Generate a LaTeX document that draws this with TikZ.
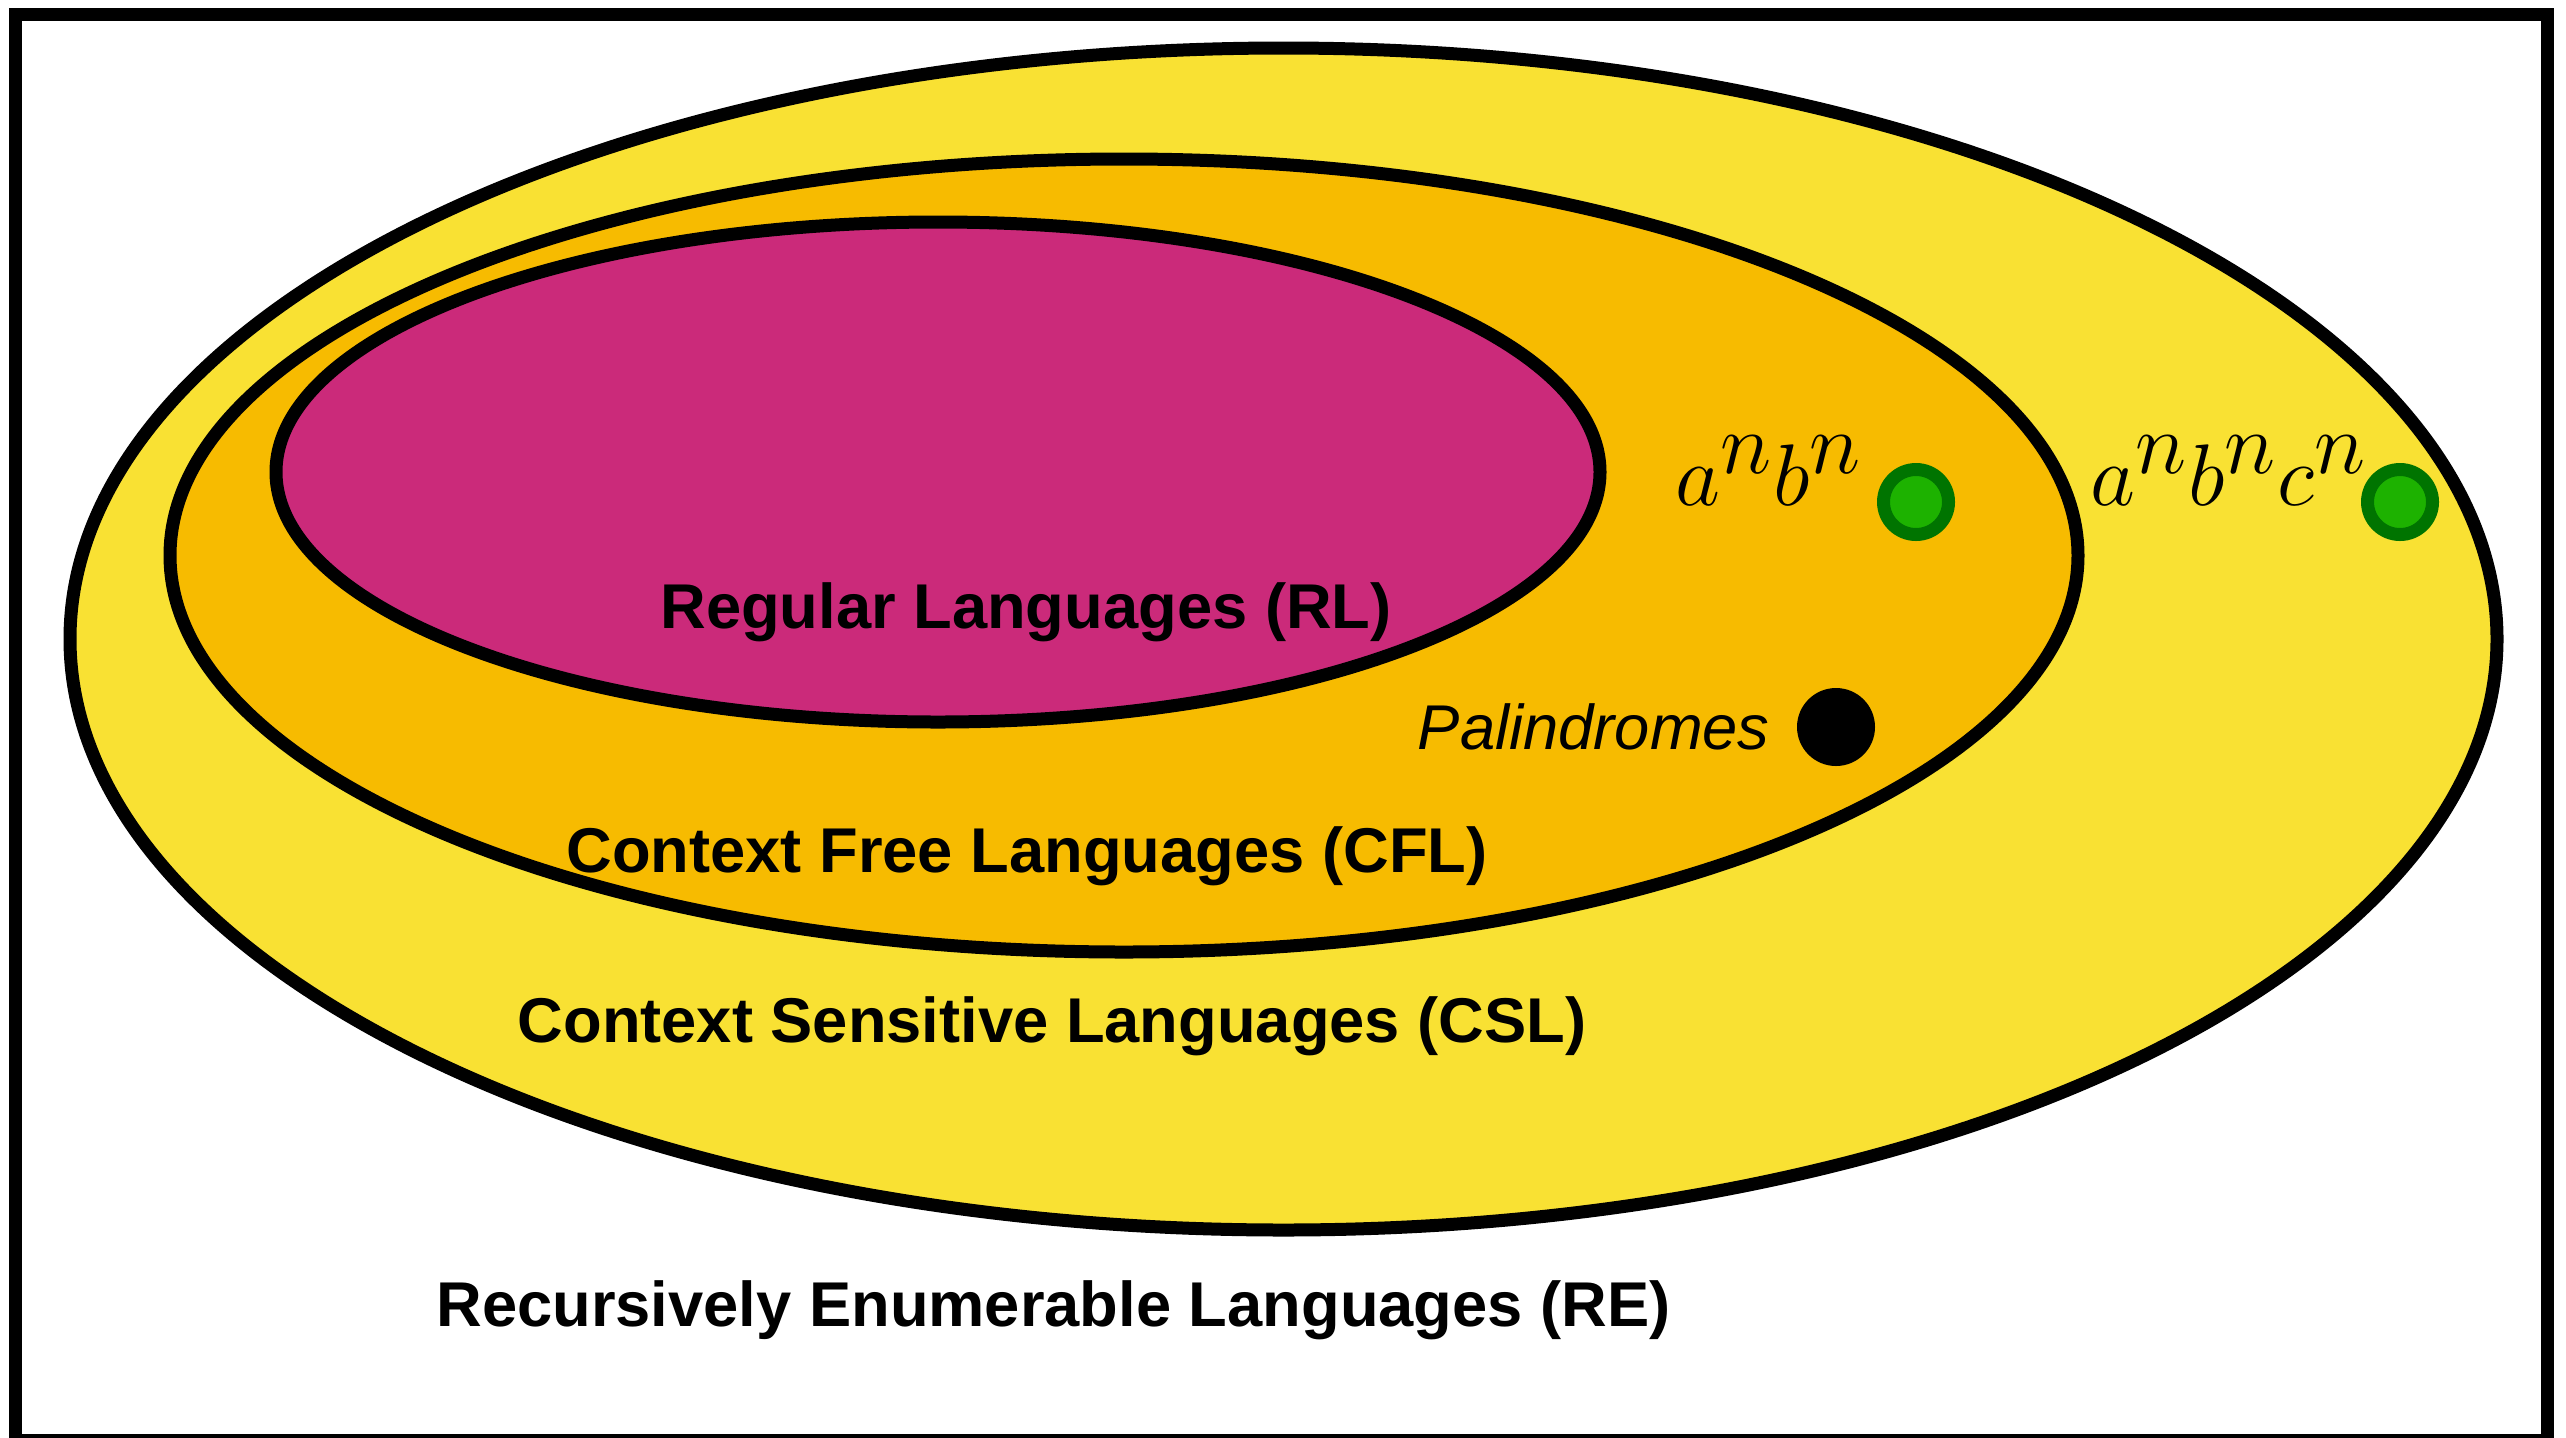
\documentclass[tikz,border=0pt]{standalone}
\usepackage{fontspec}
\setmainfont{Liberation Sans}
\usepackage{tikz}
\usetikzlibrary{positioning}
\definecolor{csyellow}{RGB}{249,225,51}
\definecolor{cforange}{RGB}{247,187,0}
\definecolor{rlmagenta}{RGB}{203,42,122}
\definecolor{dkgreen}{RGB}{0,116,0}
\definecolor{ltgreen}{RGB}{29,178,0}

\begin{document}
\begin{tikzpicture}[
    set/.style={draw=black, line width=1.3mm},
    setlabel/.style={font=\fontsize{18}{22}\selectfont\bfseries, inner sep=0pt, anchor=base},
    lang/.style={circle, fill=ltgreen, draw=dkgreen, line width=1.3mm, minimum size=0.65cm, inner sep=0pt},
    langlabel/.style={font=\fontsize{33}{40}\selectfont, inner sep=0pt, anchor=base west}]
    \useasboundingbox (0,0) rectangle (25.66,-14.37);
    \draw[line width=1.3mm] (0.155,-0.14) rectangle (25.475,-14.405);

    % the nested classes
    \draw[set, fill=csyellow] (12.835,-6.39) ellipse [x radius=12.135, y radius=5.91];
    \draw[set, fill=cforange] (11.24,-5.555) ellipse [x radius=9.54, y radius=3.965];
    \draw[set, fill=rlmagenta] (9.38,-4.72) ellipse [x radius=6.62, y radius=2.5];

    \node (rl) [setlabel] at (10.26,-6.28) {Regular Languages (RL)};
    \node (cfl) [setlabel] at (10.27,-8.72) {Context Free Languages (CFL)};
    \node (csl) [setlabel] at (10.52,-10.42) {Context Sensitive Languages (CSL)};
    \node (re) [setlabel] at (10.535,-13.26) {Recursively Enumerable Languages (RE)};

    % example languages
    \node (pdot) [circle, fill=black, minimum size=0.78cm, inner sep=0pt] at (18.36,-7.27) {};
    \node (pal) [left=0.26cm of pdot, inner sep=0pt, font=\fontsize{18}{22}\selectfont\itshape] {Palindromes};

    \node (anbn) [lang] at (19.16,-5.02) {};
    \node (anbncn) [lang] at (24.00,-5.02) {};
    \node (anbnlabel) [langlabel] at (16.75,-5.05) {$a^nb^n$};
    \node (anbncnlabel) [langlabel] at (20.90,-5.05) {$a^nb^nc^n$};
\end{tikzpicture}
\end{document}
